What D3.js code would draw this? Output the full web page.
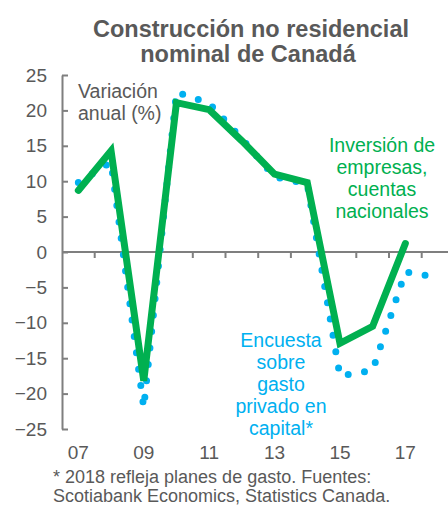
<!DOCTYPE html>
<html>
<head>
<meta charset="utf-8">
<title>Construcción no residencial</title>
<script src="https://cdn.jsdelivr.net/npm/d3@7"></script>
<style>
  body { margin: 0; background: #fff; }
  text { font-family: "Liberation Sans", Arial, sans-serif; }
</style>
</head>
<body>
<div id="chart"></div>
<script>
// years on the category axis
var years = ["2007","2008","2009","2010","2011","2012","2013","2014","2015","2016","2017","2018"];
var yearLabels = ["07","","09","","11","","13","","15","","17",""];
var yTicks = [-25,-20,-15,-10,-5,0,5,10,15,20,25];

// business investment, national accounts (green)
var inversion = [8.7, 14.3, -18.2, 21.1, 20.1, 15.7, 11.0, 9.8, -12.9, -10.5, 1.2];
// private capital spending survey (blue dotted), 2018 = plans
var encuesta = [9.8, 12.7, -22.0, 22.6, 21.0, 16.0, 10.6, 9.6, -17.5, -16.7, -2.8, -3.6];

var W = 448, H = 506;
var grey = "#595959";
var green = "#00B050", blue = "#00B0F0";

var svg = d3.select("#chart").append("svg")
  .attr("width", W)
  .attr("height", H);

// scales
var x = d3.scaleBand().domain(years).range([62, 454.4]).padding(0);
var y = d3.scaleLinear().domain([-25, 25]).range([429, 75]);
var cx = function(i) { return x(years[i]) + x.bandwidth() / 2; };

// title
svg.append("text")
  .attr("x", 251).attr("y", 37)
  .attr("text-anchor", "middle")
  .attr("font-size", 23.5).attr("font-weight", "bold")
  .attr("fill", grey)
  .text("Construcción no residencial");
svg.append("text")
  .attr("x", 248).attr("y", 62)
  .attr("text-anchor", "middle")
  .attr("font-size", 23.5).attr("font-weight", "bold")
  .attr("fill", grey)
  .text("nominal de Canadá");

// y axis
var yAxis = svg.append("g")
  .attr("transform", "translate(62,0)")
  .call(d3.axisLeft(y).tickValues(yTicks).tickSize(-6).tickSizeOuter(0).tickPadding(15));
yAxis.select(".domain").attr("stroke", "#7f7f7f").attr("stroke-width", 2);
yAxis.selectAll(".tick line").attr("stroke", "#7f7f7f").attr("stroke-width", 2);
yAxis.selectAll(".tick text")
  .attr("font-size", 19).attr("fill", grey)
  .style("font-family", "Liberation Sans, Arial, sans-serif");

// x axis along zero, ticks at category boundaries
var xAxis = svg.append("g")
  .attr("transform", "translate(0," + y(0) + ")");
xAxis.append("line")
  .attr("x1", 62).attr("x2", x.range()[1])
  .attr("stroke", "#7f7f7f").attr("stroke-width", 2);
xAxis.selectAll("line.tk")
  .data(years.slice(1))
  .enter().append("line")
  .attr("class", "tk")
  .attr("x1", function(d) { return x(d); })
  .attr("x2", function(d) { return x(d); })
  .attr("y1", 0).attr("y2", 6)
  .attr("stroke", "#7f7f7f").attr("stroke-width", 2);

// x labels at bottom
svg.selectAll("text.xl")
  .data(yearLabels)
  .enter().append("text")
  .attr("class", "xl")
  .attr("x", function(d, i) { return cx(i); })
  .attr("y", 459)
  .attr("text-anchor", "middle")
  .attr("font-size", 19).attr("fill", grey)
  .text(function(d) { return d; });

// lines
var line = d3.line()
  .x(function(d, i) { return cx(i); })
  .y(function(d) { return y(d); });

svg.append("path")
  .datum(encuesta)
  .attr("d", line)
  .attr("fill", "none")
  .attr("stroke", blue)
  .attr("stroke-width", 7)
  .attr("stroke-linecap", "round")
  .attr("stroke-dasharray", "0 16.5");

svg.append("path")
  .datum(inversion)
  .attr("d", line)
  .attr("fill", "none")
  .attr("stroke", green)
  .attr("stroke-width", 7)
  .attr("stroke-linejoin", "miter")
  .attr("stroke-linecap", "round");

// annotations
function block(lines, xp, y0, dy, anchor, color, fs) {
  svg.append("text")
    .attr("font-size", fs).attr("fill", color)
    .attr("text-anchor", anchor)
    .selectAll("tspan")
    .data(lines)
    .enter().append("tspan")
    .attr("x", xp)
    .attr("y", function(d, i) { return y0 + i * dy; })
    .text(function(d) { return d; });
}
block(["Variación", "anual (%)"], 78, 98, 22, "start", grey, 19.5);
block(["Inversión de", "empresas,", "cuentas", "nacionales"], 382, 152, 22, "middle", green, 19.5);
block(["Encuesta", "sobre", "gasto", "privado en", "capital*"], 281, 347, 22, "middle", blue, 19.5);

// footnote
block(["* 2018 refleja planes de gasto. Fuentes:",
       "Scotiabank Economics, Statistics Canada."], 53, 483, 18.5, "start", grey, 18);
</script>
</body>
</html>
